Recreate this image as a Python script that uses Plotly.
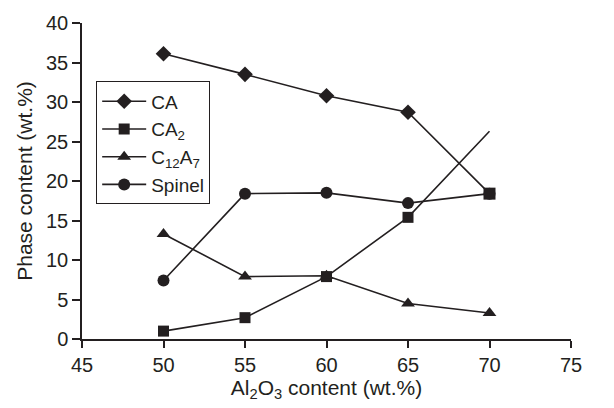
import plotly.graph_objects as go

x_vals = [50, 55, 60, 65, 70]
ca = [36.1, 33.5, 30.8, 28.7, 18.4]
ca2 = [1.0, 2.7, 7.9, 15.4, 26.3]
c12a7 = [13.3, 7.9, 8.0, 4.5, 3.3]
spinel = [7.4, 18.4, 18.5, 17.2, 18.4]
ca_symbols = ["diamond", "diamond", "diamond", "diamond", "square"]

x_ticks = [45, 50, 55, 60, 65, 70, 75]
y_ticks = [0, 5, 10, 15, 20, 25, 30, 35, 40]

ink = "#231f20"
clear = "rgba(0,0,0,0)"
ca2_colors = [ink, ink, ink, ink, clear]
font = "Liberation Sans, Arial, sans-serif"

fig = go.Figure()
fig.add_trace(go.Scatter(x=x_vals, y=ca, name="CA", mode="lines+markers",
                         line=dict(color=ink, width=1.6),
                         marker=dict(symbol=ca_symbols, size=12, color=ink, line=dict(width=0))))
fig.add_trace(go.Scatter(x=x_vals, y=ca2, name="CA<sub>2</sub>", mode="lines+markers",
                         line=dict(color=ink, width=1.6),
                         marker=dict(symbol="square", size=11, color=ca2_colors, line=dict(width=0))))
fig.add_trace(go.Scatter(x=x_vals, y=c12a7, name="C<sub>12</sub>A<sub>7</sub>", mode="lines+markers",
                         line=dict(color=ink, width=1.6),
                         marker=dict(symbol="triangle-up", size=12, color=ink, line=dict(width=0))))
fig.add_trace(go.Scatter(x=x_vals, y=spinel, name="Spinel", mode="lines+markers",
                         line=dict(color=ink, width=1.6),
                         marker=dict(symbol="circle", size=12, color=ink, line=dict(width=0))))

fig.update_layout(
    width=614, height=408,
    margin=dict(l=82, r=43, t=20, b=69),
    paper_bgcolor="white", plot_bgcolor="white",
    font=dict(family=font, size=20, color=ink),
    showlegend=True,
    legend=dict(x=0.029, y=0.815, xanchor="left", yanchor="top",
                bordercolor=ink, borderwidth=1, bgcolor="white",
                font=dict(family=font, size=19, color=ink),
                itemsizing="trace", itemwidth=44),
)
fig.update_xaxes(range=[45, 75], tickvals=x_ticks, ticktext=[str(v) for v in x_ticks],
                 tickfont=dict(family=font, size=20, color=ink),
                 showgrid=False, zeroline=False, showline=True, linecolor=ink, linewidth=1.5,
                 ticks="outside", ticklen=7, tickcolor=ink, tickwidth=1.5,
                 title=dict(text="Al<sub>2</sub>O<sub>3</sub> content (wt.%)", standoff=4,
                            font=dict(family=font, size=21, color=ink)))
fig.update_yaxes(range=[0, 40], tickvals=y_ticks, ticktext=[str(v) for v in y_ticks],
                 tickfont=dict(family=font, size=20, color=ink),
                 showgrid=False, zeroline=False, showline=True, linecolor=ink, linewidth=1.5,
                 ticks="outside", ticklen=8, tickcolor=ink, tickwidth=1.5,
                 title=dict(text="Phase content (wt.%)", standoff=8,
                            font=dict(family=font, size=21, color=ink)))

fig.write_html("out.html", config={"displayModeBar": False},
               post_script="document.body.style.margin='0';")
